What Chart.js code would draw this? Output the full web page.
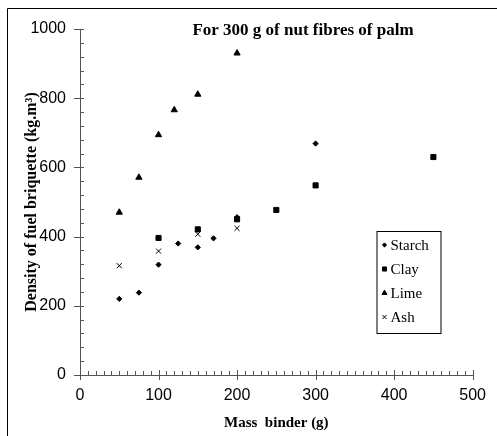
<!DOCTYPE html>
<html>
<head>
<meta charset="utf-8">
<script src="https://cdn.jsdelivr.net/npm/chart.js@4"></script>
<style>
  html, body { margin: 0; padding: 0; background: #fff; }
  #wrap { width: 497px; height: 436px; position: relative; }
</style>
</head>
<body>
<div id="wrap"><canvas id="c" width="497" height="436"></canvas></div>
<script>
// binder mass (g) and briquette density (kg/m3)
const starchX = [50, 75, 100, 125, 150, 170, 200, 300];
const starchY = [220, 238, 319, 380, 369, 395, 456, 669];
const clayX = [100, 150, 200, 250, 300, 450];
const clayY = [396, 421, 450, 477, 548, 630];
const limeX = [50, 75, 100, 120, 150, 200];
const limeY = [470, 571, 694, 766, 811, 930];
const ashX = [50, 100, 150, 200];
const ashY = [316, 358, 407, 424];

const seriesNames = ['Starch', 'Clay', 'Lime', 'Ash'];
const chartTitle = 'For 300 g of nut fibres of palm';
const xTitle = 'Mass  binder (g)';
const yTitle = 'Density of fuel briquette (kg.m\u00b3)';

function pts(xs, ys) {
  return xs.map((x, i) => ({ x: x, y: ys[i] }));
}

const styles = [
  { pointStyle: 'rectRot', radius: 2.6 },
  { pointStyle: 'rect', radius: 3.6 },
  { pointStyle: 'triangle', radius: 3.6 },
  { pointStyle: 'crossRot', radius: 3.6 }
];
const allData = [pts(starchX, starchY), pts(clayX, clayY), pts(limeX, limeY), pts(ashX, ashY)];

const datasets = seriesNames.map((name, i) => ({
  label: name,
  data: allData[i],
  pointStyle: styles[i].pointStyle,
  pointRadius: styles[i].radius,
  pointHoverRadius: styles[i].radius,
  backgroundColor: '#000',
  borderColor: '#000',
  pointBorderWidth: 1,
  showLine: false
}));

// frame, title, minor ticks and in-plot legend
const decor = {
  id: 'decor',
  afterDraw(chart) {
    const ctx = chart.ctx;
    const a = chart.chartArea;
    const xs = chart.scales.x, ys = chart.scales.y;
    ctx.save();
    // outer frame (left and top edges visible)
    ctx.strokeStyle = '#000';
    ctx.lineWidth = 1;
    ctx.beginPath();
    ctx.moveTo(7.5, 436);
    ctx.lineTo(7.5, 8.5);
    ctx.lineTo(497, 8.5);
    ctx.stroke();

    // ticks
    ctx.strokeStyle = '#555';
    ctx.beginPath();
    for (let v = 0; v <= 1000; v += 40) {
      const y = Math.round(ys.getPixelForValue(v)) + 0.5;
      ctx.moveTo(a.left, y);
      ctx.lineTo(a.left + 4, y);
    }
    for (let v = 0; v <= 1000; v += 200) {
      const y = Math.round(ys.getPixelForValue(v)) + 0.5;
      ctx.moveTo(a.left - 6, y);
      ctx.lineTo(a.left + 4, y);
    }
    for (let v = 0; v <= 500; v += 10) {
      const x = Math.round(xs.getPixelForValue(v)) + 0.5;
      ctx.moveTo(x, a.bottom);
      ctx.lineTo(x, a.bottom - 4);
    }
    for (let v = 0; v <= 500; v += 100) {
      const x = Math.round(xs.getPixelForValue(v)) + 0.5;
      ctx.moveTo(x, a.bottom + 5);
      ctx.lineTo(x, a.bottom - 5);
    }
    ctx.stroke();

    // title
    ctx.fillStyle = '#000';
    ctx.font = 'bold 17px "Liberation Serif"';
    ctx.textAlign = 'center';
    ctx.textBaseline = 'middle';
    ctx.fillText(chartTitle, a.left + 223, a.top + 2);

    // legend box
    const bx = a.left + 296.5, by = a.top + 202, bw = 64, bh = 102;
    ctx.strokeStyle = '#000';
    ctx.strokeRect(bx + 0.5, by + 0.5, bw, bh);
    ctx.font = '15px "Liberation Serif"';
    ctx.textAlign = 'left';
    seriesNames.forEach((name, i) => {
      const cy = by + 14 + i * 24;
      ctx.fillStyle = '#000';
      ctx.strokeStyle = '#000';
      ctx.lineWidth = 1;
      Chart.helpers.drawPoint(ctx, {
        pointStyle: styles[i].pointStyle,
        radius: styles[i].radius * 0.8,
        rotation: 0,
        borderWidth: 1
      }, bx + 8, cy);
      ctx.fillText(name, bx + 14, cy + 1);
    });
    ctx.restore();
  }
};

new Chart(document.getElementById('c'), {
  type: 'scatter',
  data: { datasets: datasets },
  options: {
    responsive: false,
    animation: false,
    layout: { padding: { top: 29, right: 19, left: 0, bottom: 0 } },
    plugins: {
      legend: { display: false },
      tooltip: { enabled: false }
    },
    scales: {
      x: {
        type: 'linear',
        min: 0,
        max: 500,
        afterFit: (s) => { s.height = 61; },
        grid: { display: false, drawTicks: false },
        border: { display: true, color: '#555', width: 1 },
        ticks: {
          stepSize: 100,
          padding: 11,
          color: '#000',
          maxRotation: 0,
          callback: (v) => String(v),
          font: { family: '"Liberation Sans"', size: 16 }
        },
        title: {
          display: true,
          text: xTitle,
          color: '#000',
          font: { family: '"Liberation Serif"', size: 15, weight: 'bold' },
          padding: { top: 0, bottom: 4 }
        }
      },
      y: {
        type: 'linear',
        min: 0,
        max: 1000,
        afterFit: (s) => { s.width = 80; },
        grid: { display: false, drawTicks: false },
        border: { display: true, color: '#555', width: 1 },
        ticks: {
          stepSize: 200,
          padding: 14,
          color: '#000',
          callback: (v) => String(v),
          font: { family: '"Liberation Sans"', size: 16 }
        },
        title: {
          display: true,
          text: yTitle,
          color: '#000',
          font: { family: '"Liberation Serif"', size: 16, weight: 'bold' },
          padding: { top: 22, bottom: 0 }
        }
      }
    }
  },
  plugins: [decor]
});
</script>
</body>
</html>
